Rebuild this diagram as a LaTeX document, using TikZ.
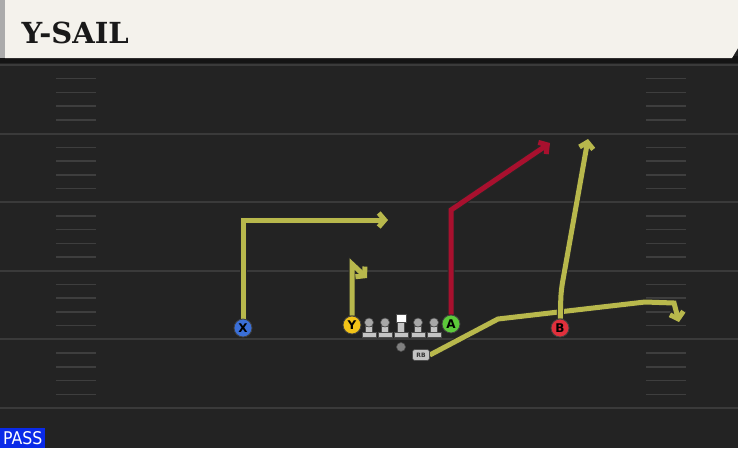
\documentclass[tikz,border=0pt]{standalone}
\usepackage{fontspec}
\newfontfamily\titlefont{DejaVu Serif}
\newfontfamily\tagfont{DejaVu Sans Condensed}
\newfontfamily\playerfont{DejaVu Sans}
\usetikzlibrary{arrows.meta,positioning,calc}

\definecolor{field}{HTML}{232323}
\definecolor{yard}{HTML}{3A3A3A}
\definecolor{hashc}{HTML}{3E3E3E}
\definecolor{cream}{HTML}{F4F2EC}
\definecolor{routey}{HTML}{B8B84C}
\definecolor{router}{HTML}{A8102E}
\definecolor{pblue}{HTML}{3A6FD8}
\definecolor{pyellow}{HTML}{F2C318}
\definecolor{pgreen}{HTML}{5CC93A}
\definecolor{pred}{HTML}{E0303C}
\definecolor{olgray}{HTML}{C4C4C4}
\definecolor{passblue}{HTML}{0A2AE8}

\pgfdeclarelayer{turf}
\pgfdeclarelayer{routes}
\pgfsetlayers{turf,routes,main}

\tikzset{
	player/.style={circle, draw=black!75, line width=0.8, fill=#1,
		minimum size=18, inner sep=0pt,
		font=\playerfont\bfseries\fontsize{12}{12}\selectfont},
	route/.style={draw=#1, line width=5, line join=miter,
		preaction={draw=black!85, line width=7},
		-{Straight Barb[length=6,width=14]}},
	route/.default=routey,
	yardline/.style={draw=yard, line width=2},
	hash/.style={draw=hashc, line width=1.5},
	lineman/.pic={
		\fill[olgray, draw=black!70, line width=0.6] (-7,0) rectangle (7,-4.5);
		\fill[olgray, draw=black!70, line width=0.6] (-3.5,-4.5) rectangle (3.5,-11);
		\fill[olgray!85!black, draw=black!70, line width=0.6] (0,-14.5) circle (4.5);
	},
	center/.pic={
		\fill[olgray, draw=black!70, line width=0.6] (-7,0) rectangle (7,-4.5);
		\fill[olgray, draw=black!70, line width=0.6] (-3.5,-4.5) rectangle (3.5,-15);
		\fill[white, draw=black!70, line width=0.6] (-5,-15) rectangle (5,-23);
	}
}

\begin{document}
\begin{tikzpicture}[x=1pt, y=-1pt]
	\useasboundingbox (0,0) rectangle (738,448);

	% Field
	\begin{pgfonlayer}{turf}
	\fill[field] (0,0) rectangle (738,448);
	\foreach \i in {0,...,4} {
		\foreach \k in {1,...,4} {
			\pgfmathsetmacro\hy{65+68.6*\i+13.72*\k}
			\draw[hash] (56,\hy) -- (96,\hy) (646,\hy) -- (686,\hy);
		}
	}
	\foreach \yl in {65,133.6,202.2,270.8,339.4,408} {
		\draw[yardline] (0,\yl) -- (738,\yl);
	}
	\end{pgfonlayer}

	% Header
	\fill[black!92] (0,56) rectangle (738,63);
	\fill[black!33] (0,0) rectangle (6,58);
	\fill[cream] (5,0) -- (738,0) -- (738,48) -- (732,58) -- (5,58) -- cycle;
	\node[anchor=west, text=black!90,
		font=\titlefont\bfseries\fontsize{29}{29}\selectfont
		] (title) at (18,33) {Y-SAIL};

	% Backfield
	\node[circle, fill=black!50, draw=black!70, line width=0.6,
		minimum size=9, inner sep=0pt] (QB) at (401,347) {};
	\node[fill=olgray, draw=black!70, line width=0.6, rounded corners=2.5,
		minimum width=17, minimum height=11, inner sep=0pt,
		font=\playerfont\bfseries\fontsize{6}{6}\selectfont, text=black!80
		] (RB) at (421,355) {RB};

	% Receivers
	\node[player=pblue] (X) at (243,328) {X};
	\node[player=pyellow] (Y) at (352,325) {Y};
	\node[player=pgreen] (A) at (451,324) {A};
	\node[player=pred] (B) at (560,328) {B};

	% Line
	\pic at (369,337) {lineman};
	\pic at (385,337) {lineman};
	\pic at (401,337) {center};
	\pic at (418,337) {lineman};
	\pic at (434,337) {lineman};

	% Routes
	\coordinate (x-end) at (388,220);
	\coordinate (y-turn) at (352,264);
	\coordinate (y-end) at (367,278);
	\coordinate (a-turn) at (451,210);
	\coordinate (a-end) at (550,143);
	\coordinate (b-turn) at (561,291);
	\coordinate (b-end) at (588,139);
	\coordinate (rb-1) at (498,319);
	\coordinate (rb-2) at (645,302);
	\coordinate (rb-3) at (674,303);
	\coordinate (rb-end) at (679,322);

	\begin{pgfonlayer}{routes}
	\draw[route] (RB.east) -- (rb-1) -- (rb-2) -- (rb-3) -- (rb-end);
	\draw[route] (X) |- (x-end);
	\draw[route] (Y) -- (y-turn) -- (y-end);
	\draw[route=router] (A) -- (a-turn) -- (a-end);
	\draw[route, rounded corners=8] (B) -- (b-turn) -- (b-end);
	\end{pgfonlayer}

	% Play type
	\node[anchor=south west, fill=passblue, text=white, inner sep=0pt,
		minimum width=45, minimum height=20,
		font=\tagfont\fontsize{17.5}{17.5}\selectfont
		] (pass) at (0,448) {PASS};
\end{tikzpicture}
\end{document}
